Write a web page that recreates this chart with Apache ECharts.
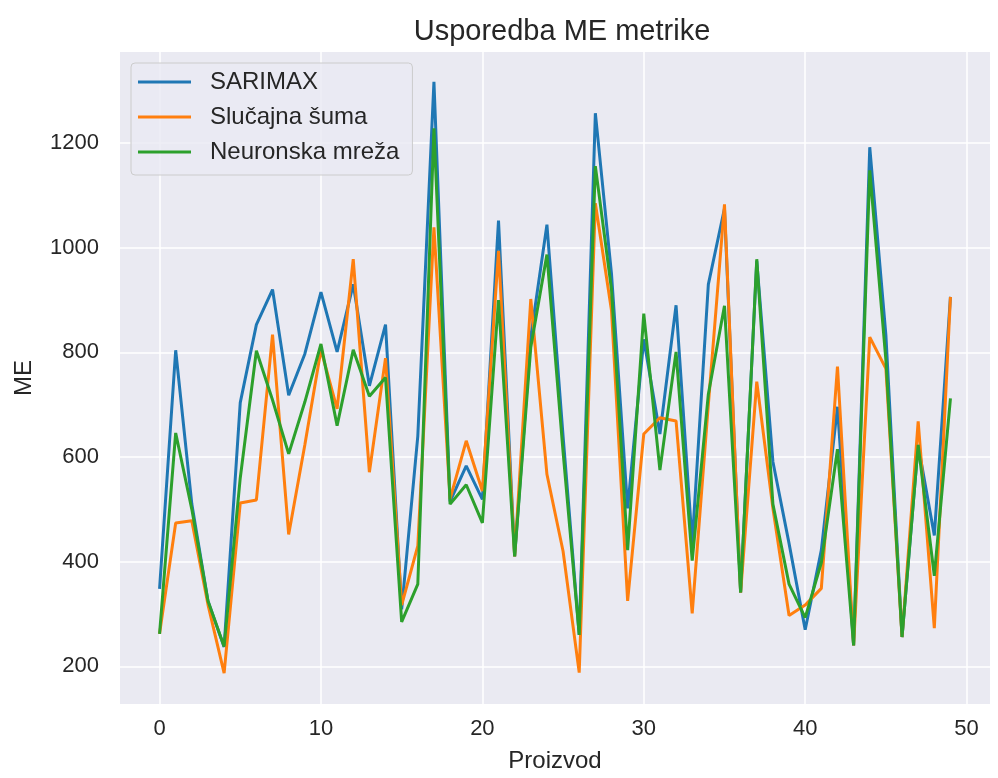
<!DOCTYPE html>
<html>
<head>
<meta charset="utf-8">
<script src="https://cdn.jsdelivr.net/npm/echarts@6/dist/echarts.min.js"></script>
<style>
html,body{margin:0;padding:0;background:#ffffff;}
#chart{width:998px;height:778px;}
</style>
</head>
<body>
<div id="chart"></div>
<script>
const products = Array.from({length: 50}, (_, i) => i);
const sarimax = [348,804,510,325,237,704,853,920,718,797,915,801,930,736,853,309,640,1317,515,583,519,1052,410,830,1044,640,260,1257,950,502,825,644,890,435,930,1075,341,975,591,435,270,422,696,240,1192,833,256,623,450,906];
const randomForest = [262,474,478,318,187,512,518,834,452,623,805,692,978,571,789,317,430,1039,520,631,535,994,410,902,567,420,188,1085,880,325,644,675,669,301,700,1083,341,744,502,297,317,349,773,240,829,769,256,668,273,906];
const neuralNet = [262,646,500,325,238,560,803,709,606,705,816,660,805,716,752,285,357,1228,510,547,474,900,410,810,987,610,260,1156,920,422,874,575,801,402,720,889,341,978,510,357,293,398,615,240,1148,785,256,623,373,712];
const seriesNames = ['SARIMAX', 'Slučajna šuma', 'Neuronska mreža'];
const xTicks = [0,10,20,30,40,50];
const yTicks = [200,400,600,800,1000,1200];

const colors = ['#1f77b4', '#ff7f0e', '#2ca02c'];
const font = 'Liberation Sans, Arial, sans-serif';
const txt = '#262626';

function mk(name, vals, c) {
  return {
    name: name, type: 'line', symbol: 'none', showSymbol: false,
    data: products.map((x, i) => [x, vals[i]]),
    lineStyle: {color: c, width: 3},
    itemStyle: {color: c},
    emphasis: {disabled: true},
    animation: false
  };
}

const chart = echarts.init(document.getElementById('chart'), null, {renderer: 'canvas'});
chart.setOption({
  backgroundColor: '#ffffff',
  animation: false,
  title: {
    text: 'Usporedba ME metrike',
    left: 557, top: 12, textAlign: 'center',
    textStyle: {fontFamily: font, fontSize: 29, fontWeight: 'normal', color: txt}
  },
  legend: {
    orient: 'vertical', left: 131, top: 63,
    backgroundColor: 'rgba(234,234,242,0.8)',
    borderColor: '#cccccc', borderWidth: 1, borderRadius: 4,
    padding: [7, 13, 11, 7],
    itemWidth: 53, itemHeight: 14, itemGap: 11,
    textStyle: {fontFamily: font, fontSize: 24, color: txt, padding: [0, 0, 0, 14]},
    data: seriesNames.map(n => ({name: n, icon: 'path://M0,0 L53,0 L53,3 L0,3 Z'}))
  },
  grid: {left: 120, right: 8, top: 52, bottom: 72, show: true, backgroundColor: '#EAEAF2', borderWidth: 0},
  xAxis: {
    type: 'value', min: -2.45, max: 51.45,
    name: 'Proizvod', nameLocation: 'middle', nameGap: 45,
    nameTextStyle: {fontFamily: font, fontSize: 24, color: txt},
    axisLine: {show: false}, axisTick: {show: false, customValues: xTicks},
    axisLabel: {customValues: xTicks, fontFamily: font, fontSize: 22, color: txt, margin: 14, formatter: v => String(v)},
    splitLine: {show: true, lineStyle: {color: '#ffffff', width: 1.5}}
  },
  yAxis: {
    type: 'value', min: 128, max: 1374,
    name: 'ME', nameLocation: 'middle', nameGap: 84,
    nameTextStyle: {fontFamily: font, fontSize: 24, color: txt},
    axisLine: {show: false}, axisTick: {show: false, customValues: yTicks},
    axisLabel: {customValues: yTicks, fontFamily: font, fontSize: 22, color: txt, margin: 21, formatter: v => String(v)},
    splitLine: {show: true, lineStyle: {color: '#ffffff', width: 1.5}}
  },
  series: [mk(seriesNames[0], sarimax, colors[0]), mk(seriesNames[1], randomForest, colors[1]), mk(seriesNames[2], neuralNet, colors[2])]
});
</script>
</body>
</html>
